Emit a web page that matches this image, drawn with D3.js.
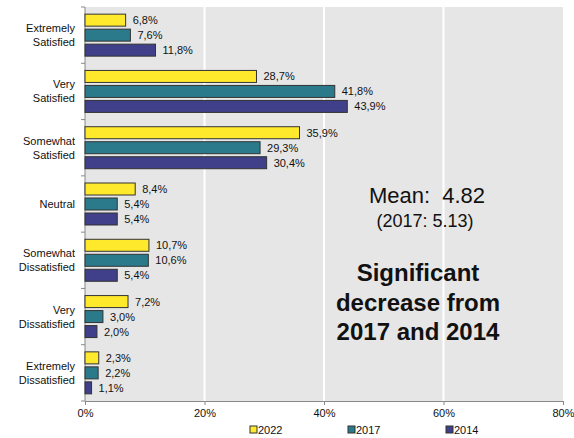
<!doctype html>
<html lang="en">
<head>
    <meta charset="utf-8">
    <script src="https://d3js.org/d3.v7.min.js"></script>
    <style>
        html, body {
            margin: 0;
            padding: 0;
            background: #fff;
        }
        svg text {
            font-family: Arial, "Liberation Sans", sans-serif;
            fill: #111;
        }
    </style>
</head>
<body>
<svg id="svg" width="574" height="438"></svg>
<script>
    var categories = [
        ["Extremely", "Satisfied"],
        ["Very", "Satisfied"],
        ["Somewhat", "Satisfied"],
        ["Neutral"],
        ["Somewhat", "Dissatisfied"],
        ["Very", "Dissatisfied"],
        ["Extremely", "Dissatisfied"]
    ];
    var seriesNames = ["2022", "2017", "2014"];
    var values2022 = [6.8, 28.7, 35.9, 8.4, 10.7, 7.2, 2.3];
    var values2017 = [7.6, 41.8, 29.3, 5.4, 10.6, 3.0, 2.2];
    var values2014 = [11.8, 43.9, 30.4, 5.4, 5.4, 2.0, 1.1];
    var xTicks = [0, 20, 40, 60, 80];
    var colors = ["#ffe92c", "#2a7a8b", "#3f4089"];

    var series = [values2022, values2017, values2014];

    var svg = d3.select("#svg");
    // plot box (note: "top" is reserved on window, so prefix these)
    var plotLeft = 85, plotRight = 563, plotTop = 7, plotBottom = 401;

    var x = d3.scaleLinear().domain([0, 80]).range([plotLeft, plotRight]);
    var y0 = d3.scaleBand()
        .domain(d3.range(categories.length))
        .range([plotTop, plotBottom])
        .paddingInner(0.254)
        .paddingOuter(0.127);
    var y1 = d3.scaleBand()
        .domain(d3.range(seriesNames.length))
        .range([0, y0.bandwidth()])
        .paddingInner(0.2);

    var fmt = function (v) {
        return v.toFixed(1).replace(".", ",") + "%";
    };

    // plot background
    svg.append("rect")
        .attr("x", plotLeft)
        .attr("y", plotTop)
        .attr("width", plotRight - plotLeft)
        .attr("height", plotBottom - plotTop)
        .attr("fill", "#e6e6e6");

    // gridlines
    svg.selectAll(".grid")
        .data(xTicks.slice(1, -1))
        .enter().append("line")
        .attr("x1", function (d) { return x(d); })
        .attr("x2", function (d) { return x(d); })
        .attr("y1", plotTop)
        .attr("y2", plotBottom)
        .attr("stroke", "#fff")
        .attr("stroke-width", 2);

    // x axis
    var xAxis = svg.append("g")
        .attr("transform", "translate(0," + plotBottom + ")")
        .call(d3.axisBottom(x).tickValues(xTicks).tickSize(4).tickPadding(4)
            .tickFormat(function (d) { return d + "%"; }));
    xAxis.select(".domain").attr("stroke", "#888");
    xAxis.selectAll(".tick line").attr("stroke", "#888");
    xAxis.selectAll("text")
        .style("font-size", "11px")
        .style("font-family", "Arial, 'Liberation Sans', sans-serif")
        .attr("fill", "#111");

    // y axis line with category separators
    var sepScale = d3.scaleLinear().domain([0, categories.length]).range([plotTop, plotBottom]);
    svg.append("line")
        .attr("x1", plotLeft).attr("x2", plotLeft)
        .attr("y1", plotTop).attr("y2", plotBottom)
        .attr("stroke", "#888");
    svg.selectAll(".sep")
        .data(d3.range(categories.length + 1))
        .enter().append("line")
        .attr("x1", plotLeft - 4).attr("x2", plotLeft)
        .attr("y1", function (d) { return sepScale(d); })
        .attr("y2", function (d) { return sepScale(d); })
        .attr("stroke", "#888");

    // category labels
    var catLabel = svg.selectAll(".cat")
        .data(categories)
        .enter().append("text")
        .attr("text-anchor", "end")
        .style("font-size", "11px");
    catLabel.each(function (lines, i) {
        var cy = y0(i) + y0.bandwidth() / 2;
        var start = cy - (lines.length - 1) * 7 + 4;
        d3.select(this).selectAll("tspan")
            .data(lines)
            .enter().append("tspan")
            .attr("x", 75)
            .attr("y", function (d, j) { return start + j * 14; })
            .text(function (d) { return d; });
    });

    // bars
    var groups = svg.selectAll(".group")
        .data(categories)
        .enter().append("g")
        .attr("transform", function (d, i) { return "translate(0," + y0(i) + ")"; });

    groups.each(function (c, i) {
        var g = d3.select(this);
        var rows = series.map(function (s, k) { return {k: k, v: s[i]}; });
        g.selectAll("rect")
            .data(rows)
            .enter().append("rect")
            .attr("x", x(0))
            .attr("y", function (d) { return y1(d.k); })
            .attr("width", function (d) { return x(d.v) - x(0); })
            .attr("height", y1.bandwidth())
            .attr("fill", function (d) { return colors[d.k]; })
            .attr("stroke", "#333")
            .attr("stroke-width", 1);
        g.selectAll("text")
            .data(rows)
            .enter().append("text")
            .attr("x", function (d) { return x(d.v) + 7; })
            .attr("y", function (d) { return y1(d.k) + y1.bandwidth() / 2 + 4; })
            .style("font-size", "11px")
            .text(function (d) { return fmt(d.v); });
    });

    // annotations
    svg.append("text")
        .attr("x", 427).attr("y", 203)
        .attr("text-anchor", "middle")
        .style("font-size", "22px")
        .style("white-space", "pre")
        .text("Mean:  4.82");
    svg.append("text")
        .attr("x", 425).attr("y", 227)
        .attr("text-anchor", "middle")
        .style("font-size", "18px")
        .text("(2017: 5.13)");

    var noteLines = ["Significant", "decrease from", "2017 and 2014"];
    svg.selectAll(".note")
        .data(noteLines)
        .enter().append("text")
        .attr("x", 418)
        .attr("y", function (d, i) { return 281 + i * 29.5; })
        .attr("text-anchor", "middle")
        .style("font-size", "24px")
        .style("font-weight", "bold")
        .text(function (d) { return d; });

    // legend
    var legendX = [250, 348, 446];
    var legend = svg.selectAll(".legend")
        .data(seriesNames)
        .enter().append("g")
        .attr("transform", function (d, i) { return "translate(" + legendX[i] + ",426)"; });
    legend.append("rect")
        .attr("width", 7).attr("height", 7)
        .attr("fill", function (d, i) { return colors[i]; })
        .attr("stroke", "#333");
    legend.append("text")
        .attr("x", 8).attr("y", 8)
        .style("font-size", "11px")
        .text(function (d) { return d; });
</script>
</body>
</html>
